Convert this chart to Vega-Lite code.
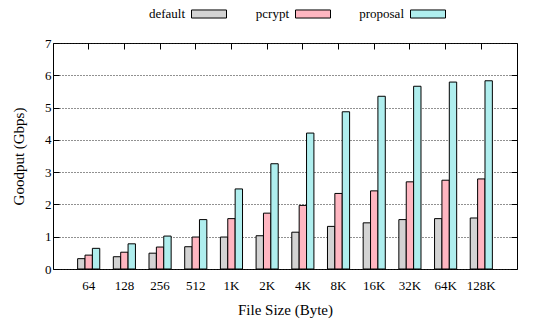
{
  "$schema": "https://vega.github.io/schema/vega-lite/v6.json",
  "autosize": "none",
  "width": 464,
  "height": 226,
  "padding": {"left": 53, "top": 43, "right": 19, "bottom": 55},
  "config": {
    "font": "Liberation Serif",
    "view": {"stroke": "black", "strokeWidth": 1},
    "axis": {"labelFont": "Liberation Serif", "titleFont": "Liberation Serif", "labelColor": "black", "titleColor": "black", "titleFontWeight": "normal", "domain": false}
  },
  "data": {"values": [
    {"size": "64", "series": "default", "value": 0.32},
    {"size": "64", "series": "pcrypt", "value": 0.43},
    {"size": "64", "series": "proposal", "value": 0.64},
    {"size": "128", "series": "default", "value": 0.38},
    {"size": "128", "series": "pcrypt", "value": 0.52},
    {"size": "128", "series": "proposal", "value": 0.78},
    {"size": "256", "series": "default", "value": 0.49},
    {"size": "256", "series": "pcrypt", "value": 0.68},
    {"size": "256", "series": "proposal", "value": 1.02},
    {"size": "512", "series": "default", "value": 0.69},
    {"size": "512", "series": "pcrypt", "value": 0.99},
    {"size": "512", "series": "proposal", "value": 1.53},
    {"size": "1K", "series": "default", "value": 0.99},
    {"size": "1K", "series": "pcrypt", "value": 1.56},
    {"size": "1K", "series": "proposal", "value": 2.48},
    {"size": "2K", "series": "default", "value": 1.03},
    {"size": "2K", "series": "pcrypt", "value": 1.73},
    {"size": "2K", "series": "proposal", "value": 3.26},
    {"size": "4K", "series": "default", "value": 1.14},
    {"size": "4K", "series": "pcrypt", "value": 1.97},
    {"size": "4K", "series": "proposal", "value": 4.21},
    {"size": "8K", "series": "default", "value": 1.32},
    {"size": "8K", "series": "pcrypt", "value": 2.34},
    {"size": "8K", "series": "proposal", "value": 4.87},
    {"size": "16K", "series": "default", "value": 1.43},
    {"size": "16K", "series": "pcrypt", "value": 2.42},
    {"size": "16K", "series": "proposal", "value": 5.35},
    {"size": "32K", "series": "default", "value": 1.53},
    {"size": "32K", "series": "pcrypt", "value": 2.70},
    {"size": "32K", "series": "proposal", "value": 5.66},
    {"size": "64K", "series": "default", "value": 1.56},
    {"size": "64K", "series": "pcrypt", "value": 2.75},
    {"size": "64K", "series": "proposal", "value": 5.79},
    {"size": "128K", "series": "default", "value": 1.58},
    {"size": "128K", "series": "pcrypt", "value": 2.79},
    {"size": "128K", "series": "proposal", "value": 5.83}
  ]},
  "layer": [
    {
      "mark": {"type": "bar", "stroke": "black", "strokeWidth": 1},
      "encoding": {
        "x": {"field": "size", "type": "nominal",
          "sort": ["64","128","256","512","1K","2K","4K","8K","16K","32K","64K","128K"],
          "scale": {"paddingInner": 0.38, "paddingOuter": 0.69},
          "axis": {"orient": "bottom", "ticks": false, "labelAngle": 0, "labelFontSize": 13, "labelPadding": 10, "title": "File Size (Byte)", "titleFontSize": 15, "titlePadding": 10, "grid": false}},
        "xOffset": {"field": "series", "type": "nominal", "sort": ["default","pcrypt","proposal"]},
        "y": {"field": "value", "type": "quantitative",
          "scale": {"domain": [0, 7], "nice": false},
          "axis": {"orient": "left", "values": [0,1,2,3,4,5,6,7], "tickSize": -6, "tickColor": "black", "labelFontSize": 13, "labelPadding": 8, "title": "Goodput (Gbps)", "titleFontSize": 15, "titlePadding": 18, "grid": true, "gridColor": "#222", "gridDash": [1, 2], "gridWidth": 1}},
        "fill": {"field": "series", "type": "nominal",
          "scale": {"domain": ["default","pcrypt","proposal"], "range": ["#d3d3d3", "#ffb6c1", "#afeeee"]},
          "legend": {"title": null, "orient": "none", "direction": "horizontal", "legendX": 138, "legendY": -47,
            "symbolType": "M-1,-0.23L1,-0.23L1,0.23L-1,0.23Z", "symbolSize": 1225, "symbolStrokeColor": "black", "symbolStrokeWidth": 1,
            "labelAlign": "right", "labelOffset": -42, "labelFontSize": 13, "labelFont": "Liberation Serif", "labelColor": "black", "columnPadding": 26}}
      }
    },
    {
      "mark": {"type": "bar", "opacity": 0},
      "encoding": {
        "x": {"field": "size", "type": "nominal",
          "sort": ["64","128","256","512","1K","2K","4K","8K","16K","32K","64K","128K"],
          "axis": {"orient": "top", "labels": false, "tickSize": -6, "tickColor": "black", "title": null, "grid": false}},
        "xOffset": {"field": "series", "type": "nominal", "sort": ["default","pcrypt","proposal"]},
        "y": {"field": "value", "type": "quantitative",
          "axis": {"orient": "right", "values": [0,1,2,3,4,5,6,7], "labels": false, "tickSize": -6, "tickColor": "black", "title": null, "grid": false}}
      }
    }
  ]
}
